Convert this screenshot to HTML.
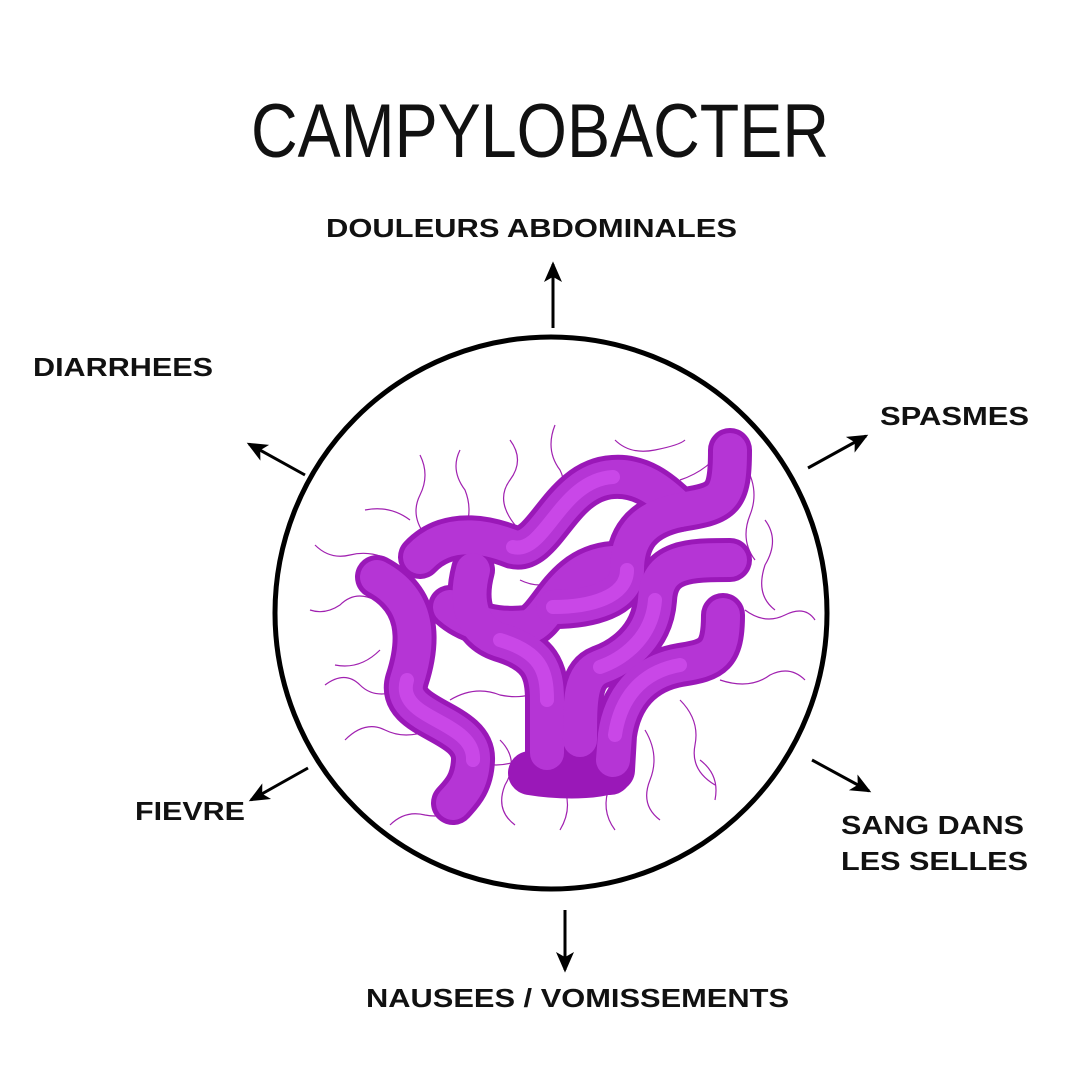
<!DOCTYPE html>
<html><head><meta charset="utf-8"><style>
html,body{margin:0;padding:0;background:#fff}
svg{display:block}
</style></head><body>
<svg width="1080" height="1080" viewBox="0 0 1080 1080" xmlns="http://www.w3.org/2000/svg">
<defs>
<marker id="ah" viewBox="0 0 16 14" refX="14" refY="7" markerWidth="22" markerHeight="18" markerUnits="userSpaceOnUse" orient="auto">
<path d="M0,0 L16,7 L0,14 L4,7 Z" fill="#000"/>
</marker>
</defs>
<rect width="1080" height="1080" fill="#fff"/>
<text x="540" y="157" text-anchor="middle" font-family="Liberation Sans, sans-serif" font-size="76" textLength="578" lengthAdjust="spacingAndGlyphs" fill="#111">CAMPYLOBACTER</text>
<g font-family="Liberation Sans, sans-serif" font-weight="bold" font-size="26" fill="#111">
<text x="326" y="237" textLength="411" lengthAdjust="spacingAndGlyphs">DOULEURS ABDOMINALES</text>
<text x="33" y="376" textLength="180" lengthAdjust="spacingAndGlyphs">DIARRHEES</text>
<text x="880" y="425" textLength="149" lengthAdjust="spacingAndGlyphs">SPASMES</text>
<text x="135" y="820" textLength="110" lengthAdjust="spacingAndGlyphs">FIEVRE</text>
<text x="841" y="834" textLength="183" lengthAdjust="spacingAndGlyphs">SANG DANS</text>
<text x="841" y="870" textLength="187" lengthAdjust="spacingAndGlyphs">LES SELLES</text>
<text x="366" y="1007" textLength="423" lengthAdjust="spacingAndGlyphs">NAUSEES / VOMISSEMENTS</text>
</g>
<g stroke="#000" stroke-width="3" marker-end="url(#ah)">
<line x1="553" y1="328" x2="553" y2="264"/>
<line x1="305" y1="475" x2="249" y2="444"/>
<line x1="808" y1="468" x2="866" y2="436"/>
<line x1="812" y1="760" x2="869" y2="791"/>
<line x1="308" y1="768" x2="251" y2="800"/>
<line x1="565" y1="910" x2="565" y2="970"/>
</g>
<circle cx="551" cy="613" r="276" fill="none" stroke="#000" stroke-width="5"/>
<g fill="none" stroke="#a020b0" stroke-width="1.2">
<path d="M420,455 q10,20 0,40 q-10,20 5,40"/>
<path d="M460,450 q-10,20 5,40 q10,25 -5,50"/>
<path d="M510,440 q15,20 0,40 q-15,20 5,45"/>
<path d="M555,425 q-10,25 5,45 q10,20 -5,45"/>
<path d="M615,440 q15,15 40,10 q25,-5 30,-10"/>
<path d="M680,480 q30,-10 45,-35"/>
<path d="M745,465 q15,25 5,50 q-10,25 5,45"/>
<path d="M765,520 q15,20 0,45 q-10,30 10,45"/>
<path d="M745,610 q20,15 40,5 q20,-10 30,5"/>
<path d="M720,680 q30,10 50,-5 q20,-10 35,5"/>
<path d="M680,700 q20,20 15,45 q-5,25 20,40"/>
<path d="M645,730 q15,25 5,50 q-10,25 10,40"/>
<path d="M610,785 q-10,25 5,45"/>
<path d="M560,780 q15,25 0,50"/>
<path d="M500,740 q20,20 5,45 q-10,25 10,40"/>
<path d="M470,800 q-20,20 -45,15 q-20,-5 -35,10"/>
<path d="M430,730 q-25,10 -45,0 q-20,-10 -40,10"/>
<path d="M400,690 q-25,10 -40,-5 q-15,-15 -35,0"/>
<path d="M380,650 q-20,20 -45,15"/>
<path d="M375,600 q-20,-10 -35,5 q-15,10 -30,5"/>
<path d="M390,560 q-20,-10 -40,-5 q-20,5 -35,-10"/>
<path d="M410,520 q-20,-15 -45,-10"/>
<path d="M450,700 q25,-15 50,-5 q25,5 40,-5"/>
<path d="M520,760 q-25,10 -45,0"/>
<path d="M700,760 q20,15 15,40"/>
<path d="M600,690 q15,-10 35,-5"/>
<path d="M520,580 q20,10 40,0"/>
</g>
<g fill="none" stroke-linecap="round" stroke-linejoin="round">
<g stroke="#9a18b8" stroke-width="44">
<path d="M377,577 C420,600 420,640 407,680 C395,720 475,720 473,760 C472,785 460,795 453,803"/>
<path d="M420,557 C450,525 495,540 513,547 C545,555 560,480 613,477 C640,475 660,490 680,510"/>
<path d="M450,607 C470,625 500,630 527,627 C550,622 560,567 613,563"/>
<path d="M473,570 C465,600 470,630 500,640 C540,652 547,670 547,700 L547,753 C547,770 560,773 610,773"/>
<path d="M730,450 C730,500 723,503 680,510 C640,518 627,540 627,570 C627,597 590,607 553,607"/>
<path d="M730,560 C690,560 657,560 655,600 C652,640 620,660 600,667 C580,675 580,700 580,740 L580,755"/>
<path d="M723,615 C723,655 713,660 680,665 C640,672 620,700 615,735 L613,770 C600,778 560,778 530,773"/>
</g>
<g stroke="#b535d5" stroke-width="34">
<path d="M377,577 C420,600 420,640 407,680 C395,720 475,720 473,760 C472,785 460,795 453,803"/>
<path d="M420,557 C450,525 495,540 513,547 C545,555 560,480 613,477 C640,475 660,490 680,510"/>
<path d="M450,607 C470,625 500,630 527,627 C550,622 560,567 613,563"/>
<path d="M473,570 C465,600 470,630 500,640 C540,652 547,670 547,700 L547,753"/>
<path d="M730,450 C730,500 723,503 680,510 C640,518 627,540 627,570 C627,597 590,607 553,607"/>
<path d="M730,560 C690,560 657,560 655,600 C652,640 620,660 600,667 C580,675 580,700 580,740"/>
<path d="M723,615 C723,655 713,660 680,665 C640,672 620,700 615,735 L613,760"/>
</g>
<g stroke="#d250f0" stroke-width="14" opacity="0.7">
<path d="M407,680 C395,720 475,720 473,760"/>
<path d="M513,547 C545,555 560,480 613,477"/>
<path d="M500,640 C540,652 547,670 547,700"/>
<path d="M627,570 C627,597 590,607 553,607"/>
<path d="M655,600 C652,640 620,660 600,667"/>
<path d="M680,665 C640,672 620,700 615,735"/>
</g>
</g>
</svg>
</body></html>
